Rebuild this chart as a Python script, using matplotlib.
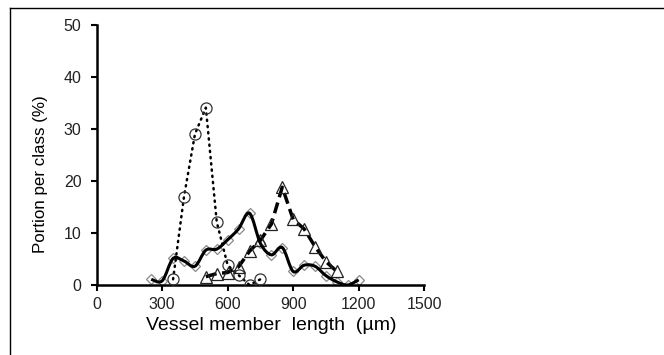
import numpy as np
import matplotlib.pyplot as plt
from matplotlib.path import Path
from matplotlib.patches import PathPatch
from matplotlib.lines import Line2D

plt.rcParams['font.family'] = ['Liberation Sans', 'DejaVu Sans']

# data
len_circ = [350, 400, 450, 500, 550, 600, 650, 700, 750]
pct_circ = [1.1, 17.0, 29.0, 34.1, 12.1, 3.8, 1.9, 0.0, 1.1]

len_diam = [250, 300, 350, 400, 450, 500, 550, 600, 650, 700,
            750, 800, 850, 900, 950, 1000, 1050, 1100, 1150, 1200]
pct_diam = [1.1, 0.8, 5.1, 4.6, 3.6, 6.7, 6.9, 8.7, 10.8, 13.8,
            8.0, 5.8, 7.2, 2.6, 3.8, 3.6, 1.8, 0.6, 0.0, 1.0]

len_tri = [500, 550, 600, 650, 700, 750, 800, 850, 900, 950, 1000, 1050, 1100]
pct_tri = [1.6, 2.2, 2.4, 3.5, 6.5, 8.6, 11.7, 18.8, 12.6, 10.8, 7.4, 4.5, 2.6]

x_ticks = [0, 300, 600, 900, 1200, 1500]
y_ticks = [0, 10, 20, 30, 40, 50]


def smooth_path(xs, ys):
    # excel-like smoothed line: catmull-rom segments as cubic beziers
    p = np.column_stack([xs, ys]).astype(float)
    p_ext = np.vstack([p[0], p, p[-1]])
    verts = [p[0]]
    codes = [Path.MOVETO]
    for i in range(len(p) - 1):
        p0, p1, p2, p3 = p_ext[i], p_ext[i + 1], p_ext[i + 2], p_ext[i + 3]
        verts += [p1 + (p2 - p0) / 6, p2 - (p3 - p1) / 6, p2]
        codes += [Path.CURVE4] * 3
    return Path(verts, codes)


fig = plt.figure(figsize=(6.64, 3.55), dpi=100)
ax = fig.add_axes([0.1456, 0.1972, 0.4932, 0.7324])

ax.plot(len_circ, pct_circ, color='black', linestyle=(0, (0.5, 2.0)),
        linewidth=1.8, dash_capstyle='round', marker='o', markersize=8,
        markerfacecolor='none', markeredgecolor='#333333',
        markeredgewidth=0.9, zorder=3)
ax.plot(len_diam, pct_diam, linestyle='none', marker='D', markersize=5.5,
        markerfacecolor='none', markeredgecolor='#8a8a8a',
        markeredgewidth=0.9, zorder=2)
ax.add_patch(PathPatch(smooth_path(len_diam, pct_diam), facecolor='none',
                       edgecolor='black', linewidth=2.2, zorder=4))
ax.plot(len_tri, pct_tri, color='black', linestyle=(0, (3.2, 1.6)),
        linewidth=2.5, marker='^', markersize=8,
        markerfacecolor='none', markeredgecolor='#222222',
        markeredgewidth=0.9, zorder=3)

ax.set_xlim(0, 1500)
ax.set_ylim(0, 50)
ax.set_xticks(x_ticks)
ax.set_yticks(y_ticks)
for s in ['top', 'right']:
    ax.spines[s].set_visible(False)
for s in ['left', 'bottom']:
    ax.spines[s].set_linewidth(1.8)
ax.tick_params(direction='out', length=4, width=1.5, labelsize=11.5,
               colors='black', labelcolor='#222222')
ax.tick_params(axis='y', pad=7)
ax.tick_params(axis='x', pad=5)

ax.set_xlabel('Vessel member  length  (µm)', fontsize=14)
ax.set_ylabel('Portion per class (%)', fontsize=12.2)
ax.xaxis.set_label_coords(0.532, -0.125)
ax.yaxis.set_label_coords(-0.148, 0.425)

# picture frame (top and left edges)
fig.add_artist(Line2D([10 / 664, 1], [1 - 8 / 355, 1 - 8 / 355],
                      transform=fig.transFigure, color='black', linewidth=1))
fig.add_artist(Line2D([10 / 664, 10 / 664], [0, 1 - 8 / 355],
                      transform=fig.transFigure, color='black', linewidth=1))

fig.savefig('out.png', dpi=100)
